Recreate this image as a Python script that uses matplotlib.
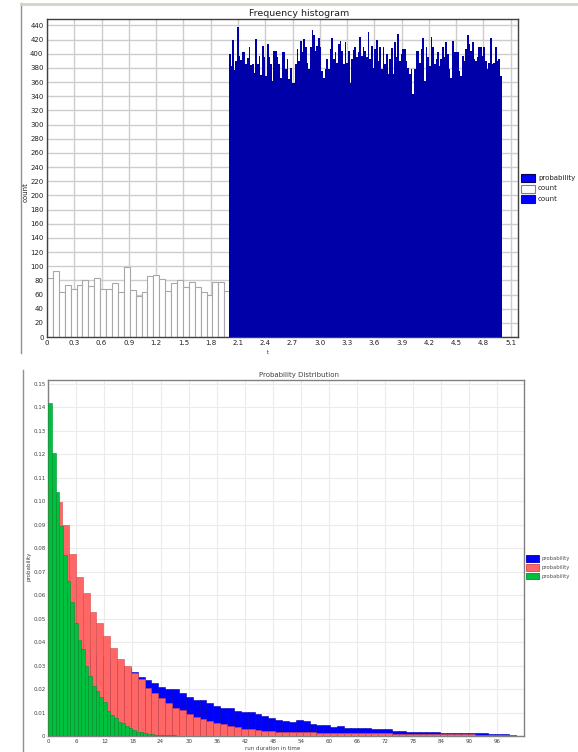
import matplotlib
matplotlib.use("Agg")

import matplotlib.pyplot as plt
import numpy as np
from matplotlib.patches import Rectangle
from matplotlib.lines import Line2D

# ------------------------------------------------------------
# DATA - top panel (frequency histogram)
# ------------------------------------------------------------
white_width = 0.065
white_counts = [84, 93, 63, 74, 68, 74, 80, 72, 84, 68,
                68, 76, 64, 99, 67, 58, 63, 86, 88, 82,
                65, 76, 81, 70, 77, 71, 64, 60, 77, 78, 65]

blue_start, blue_end = 2.0, 5.0
blue_counts = [400, 382, 420, 377, 390, 438, 397, 391, 403, 403,
               385, 394, 409, 384, 385, 373, 421, 385, 397, 370,
               411, 395, 369, 413, 395, 385, 362, 404, 404, 395,
               385, 366, 403, 402, 378, 392, 364, 380, 359, 359,
               385, 406, 390, 418, 402, 421, 410, 387, 378, 409,
               433, 427, 404, 411, 422, 409, 376, 366, 378, 392,
               378, 406, 422, 392, 402, 387, 413, 418, 404, 385,
               416, 387, 404, 358, 392, 405, 409, 395, 403, 423,
               397, 409, 404,
               395, 430, 392, 411, 380, 406, 419, 390, 410, 378,
               409, 385, 399, 371, 392, 408, 372, 416, 395, 428,
               390, 400, 406, 406, 390, 380, 371, 378, 343, 378,
               404, 404, 387, 406, 422, 362, 409, 395, 383, 423,
               409, 385, 392, 402, 383, 392, 410, 395, 416, 399,
               378, 366, 418, 402, 402, 402, 376, 369, 397, 390,
               406, 427, 413, 404, 416, 392, 390, 395, 409, 409,
               397, 410, 390, 378, 387, 422, 385, 387, 409, 390,
               392, 369]

top_xticks = np.round(np.arange(0, 5.11, 0.3), 1)
top_yticks = np.arange(0, 441, 20)
top_legend = ["probability", "count", "count"]

# ------------------------------------------------------------
# DATA - bottom panel (probability distribution)
# ------------------------------------------------------------
green_width = 0.78125
green_prob = [0.1418, 0.1207, 0.1041, 0.0896, 0.0770, 0.0660, 0.0570, 0.0480,
              0.0410, 0.0370, 0.0300, 0.0256, 0.0213, 0.0193, 0.0168, 0.0144,
              0.0107, 0.0090, 0.0075, 0.0061, 0.0054, 0.0044, 0.0033, 0.0026,
              0.0018, 0.0016, 0.0011, 0.0009, 0.0007, 0.0006, 0.0005, 0.0004,
              0.0004, 0.0003, 0.0003, 0.0002, 0.0002, 0.0001, 0.0001, 0.0001]

rb_width = 1.47
red_prob = [0.1080, 0.0998, 0.0899, 0.0775, 0.0676, 0.0611, 0.0530, 0.0480,
            0.0426, 0.0374, 0.0330, 0.0298, 0.0267, 0.0241, 0.0203, 0.0182,
            0.0160, 0.0139, 0.0118, 0.0111, 0.0094, 0.0080, 0.0071, 0.0065,
            0.0057, 0.0051, 0.0043, 0.0037, 0.0031, 0.0028, 0.0026, 0.0023,
            0.0020, 0.0018, 0.0017, 0.0016, 0.0016, 0.0015, 0.0015, 0.0014,
            0.0014, 0.0013, 0.0013, 0.0013, 0.0012, 0.0012, 0.0012, 0.0011,
            0.0011, 0.0011, 0.0010, 0.0010, 0.0010, 0.0009, 0.0009, 0.0009,
            0.0008, 0.0008, 0.0008, 0.0007, 0.0007, 0.0007, 0.0006, 0.0006,
            0.0006, 0.0005, 0.0005, 0.0004]
blue_prob = [0.0400, 0.0420, 0.0410, 0.0400, 0.0380, 0.0370, 0.0350, 0.0340,
             0.0320, 0.0310, 0.0300, 0.0290, 0.0274, 0.0253, 0.0239, 0.0224,
             0.0210, 0.0199, 0.0199, 0.0182, 0.0165, 0.0153, 0.0153, 0.0139,
             0.0129, 0.0118, 0.0118, 0.0108, 0.0104, 0.0104, 0.0094, 0.0085,
             0.0075, 0.0068, 0.0063, 0.0061, 0.0068, 0.0065, 0.0051, 0.0047,
             0.0045, 0.0040, 0.0042, 0.0036, 0.0033, 0.0033, 0.0033, 0.0031,
             0.0030, 0.0028, 0.0023, 0.0020, 0.0019, 0.0019, 0.0017, 0.0016,
             0.0015, 0.0014, 0.0013, 0.0013, 0.0012, 0.0012, 0.0011, 0.0011,
             0.0010, 0.0010, 0.0008, 0.0006]

bot_xticks = np.arange(0, 97, 6)
bot_yticks = np.round(np.arange(0, 0.151, 0.01), 2)
bot_legend = ["probability", "probability", "probability"]

# ------------------------------------------------------------
# FIGURE
# ------------------------------------------------------------
W, H = 578, 752
fig = plt.figure(figsize=(W / 100, H / 100), dpi=100)


def fx(px):
    return px / W


def fy(py):
    return 1 - py / H


# ------------------------------------------------------------
# TOP PANEL
# ------------------------------------------------------------
ax1 = fig.add_axes([fx(47), fy(337), fx(518) - fx(47), fy(19) - fy(337)])

ax1.bar(np.arange(len(white_counts)) * white_width, white_counts, width=white_width,
        align="edge", color="white", edgecolor="#A8A8A8", linewidth=0.8, zorder=2)

blue_edges = np.linspace(blue_start, blue_end, len(blue_counts) + 1)
ax1.bar(blue_edges[:-1], blue_counts, width=np.diff(blue_edges), align="edge",
        color="#0000A8", linewidth=0, zorder=3)

ax1.set_xlim(0, 5.18)
ax1.set_ylim(0, 449)
ax1.set_xticks(top_xticks)
ax1.set_xticklabels(["0" if v == 0 else f"{v:.1f}" for v in top_xticks])
ax1.set_yticks(top_yticks)
ax1.tick_params(length=0, labelsize=5, pad=2.5, colors="#202020")
ax1.grid(True, color="#CDCDCD", linewidth=1)
ax1.set_axisbelow(True)
for side in ax1.spines.values():
    side.set_color("#404040")
    side.set_linewidth(1)

fig.text(fx(299), fy(13), "Frequency histogram", ha="center", va="center",
         fontsize=6.8, color="#202020")
fig.text(fx(26), fy(192), "count", rotation=90, ha="center", va="center",
         fontsize=5, color="#202020")
fig.text(fx(268), fy(352), "t", ha="center", va="center", fontsize=3.5, color="#202020")

# legend (drawn by hand so it sits outside the plot like the original)
top_patch = [("#0000FF", "#000060"), ("white", "#808080"), ("#0000FF", "#0000FF")]
for i, (label, (fc, ec)) in enumerate(zip(top_legend, top_patch)):
    cy = 178 + i * 10.5
    fig.add_artist(Rectangle((fx(521), fy(cy + 4)), fx(14), fy(cy - 4) - fy(cy + 4),
                             transform=fig.transFigure, facecolor=fc, edgecolor=ec,
                             linewidth=0.8))
    fig.text(fx(538), fy(cy), label, ha="left", va="center", fontsize=5, color="#202020")

# panel frame lines
fig.add_artist(Line2D([fx(21), fx(21)], [fy(3), fy(353)], color="#909090", linewidth=1))
fig.add_artist(Line2D([fx(21), fx(578)], [fy(4), fy(4)], color="#D6D2C4", linewidth=2))

# ------------------------------------------------------------
# BOTTOM PANEL
# ------------------------------------------------------------
ax2 = fig.add_axes([fx(48.3), fy(736), fx(524) - fx(48.3), fy(380) - fy(736)])

rb_left = np.arange(len(blue_prob)) * rb_width
ax2.bar(rb_left, blue_prob, width=rb_width, align="edge", color="#0000FF",
        edgecolor="#0000B0", linewidth=0.4, zorder=2)
ax2.bar(np.arange(len(red_prob)) * rb_width, red_prob, width=rb_width, align="edge",
        color="#FF6666", edgecolor="#D04848", linewidth=0.4, zorder=3)
ax2.bar(np.arange(len(green_prob)) * green_width, green_prob, width=green_width,
        align="edge", color="#00C040", edgecolor="#00902C", linewidth=0.4, zorder=4)

ax2.set_xlim(0, 101.7)
ax2.set_ylim(0, 0.1517)
ax2.set_xticks(bot_xticks)
ax2.set_yticks(bot_yticks)
ax2.set_yticklabels(["0" if v == 0 else f"{v:.2f}" for v in bot_yticks])
ax2.tick_params(length=0, labelsize=4, pad=2, colors="#404040")
ax2.grid(True, color="#EBEBEB", linewidth=0.8)
ax2.set_axisbelow(True)
for side in ax2.spines.values():
    side.set_color("#808080")
    side.set_linewidth(1)

fig.text(fx(299), fy(375.5), "Probability Distribution", ha="center", va="center",
         fontsize=5, color="#404040")
fig.text(fx(29), fy(566), "probability", rotation=90, ha="center", va="center",
         fontsize=4, color="#404040")
fig.text(fx(273), fy(746.5), "run duration in time", ha="center", va="top",
         fontsize=4, color="#404040")

bot_patch = [("#0000FF", "#0000B0"), ("#FF6666", "#D04848"), ("#00C040", "#00902C")]
for i, (label, (fc, ec)) in enumerate(zip(bot_legend, bot_patch)):
    cy = 558.7 + i * 8.7
    fig.add_artist(Rectangle((fx(526), fy(cy + 3.3)), fx(13), fy(cy - 3.3) - fy(cy + 3.3),
                             transform=fig.transFigure, facecolor=fc, edgecolor=ec,
                             linewidth=0.6))
    fig.text(fx(541), fy(cy), label, ha="left", va="center", fontsize=3.8, color="#505050")

fig.add_artist(Line2D([fx(22.5), fx(22.5)], [fy(370), fy(752)], color="#909090", linewidth=1))

fig.savefig("out.png", dpi=100)
